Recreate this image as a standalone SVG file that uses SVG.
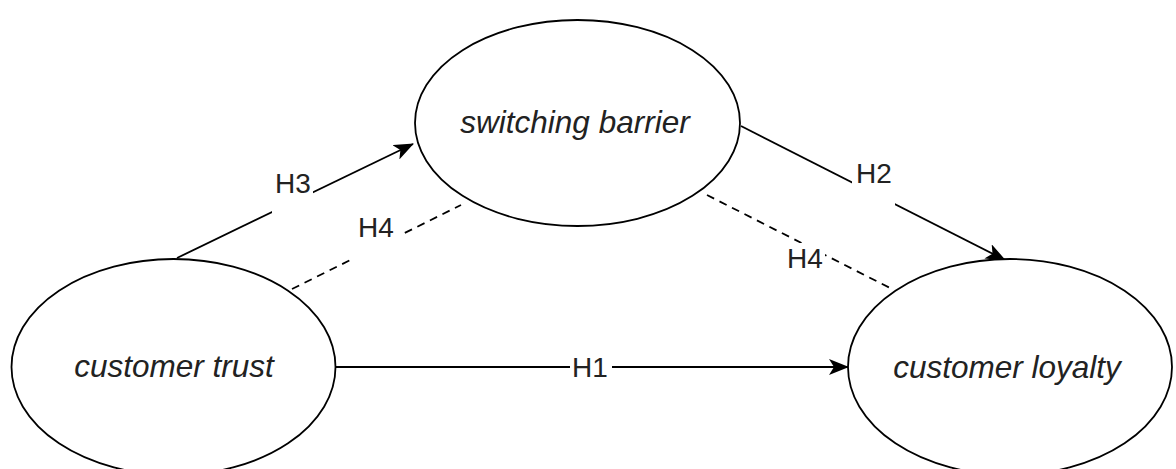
<svg xmlns="http://www.w3.org/2000/svg" width="1176" height="469" viewBox="0 0 1176 469">
<style>
.node ellipse{fill:#ffffff;stroke:#000000;stroke-width:1.8}
.node text{font-family:"Liberation Sans",Arial,sans-serif;font-style:italic;font-size:31.5px;fill:#222222;text-anchor:middle}
.edge{fill:none;stroke:#000000;stroke-width:1.8}
.dash{stroke-dasharray:8 6}
.lblbg{fill:#ffffff;stroke:none}
.lbl{font-family:"Liberation Sans",Arial,sans-serif;font-size:28px;fill:#222222;text-anchor:middle}
</style>
<defs>
<marker id="arrow" markerUnits="userSpaceOnUse" markerWidth="20" markerHeight="16" viewBox="0 0 20 16" refX="19" refY="8" orient="auto">
<path d="M0,0 L20,8 L0,16 L5,8 Z" fill="#000000"/>
</marker>
</defs>
<rect width="1176" height="469" fill="#ffffff"/>
<g id="connectors">
<line class="edge" x1="177" y1="258" x2="413" y2="144" marker-end="url(#arrow)"/>
<line class="edge dash" x1="292" y1="289" x2="461" y2="205"/>
<line class="edge" x1="741" y1="126" x2="1005" y2="260" marker-end="url(#arrow)"/>
<line class="edge dash" x1="707" y1="195" x2="892" y2="289"/>
<line class="edge" x1="336" y1="367" x2="848" y2="367" marker-end="url(#arrow)"/>
<rect class="lblbg" x="272" y="168" width="41" height="45"/>
<text class="lbl" x="293" y="193">H3</text>
<rect class="lblbg" x="353" y="212" width="50" height="48"/>
<text class="lbl" x="376" y="237">H4</text>
<rect class="lblbg" x="852" y="158" width="43" height="48"/>
<text class="lbl" x="874" y="183">H2</text>
<rect class="lblbg" x="786" y="243" width="39" height="29"/>
<text class="lbl" x="805" y="268">H4</text>
<rect class="lblbg" x="570" y="352" width="42" height="32"/>
<text class="lbl" x="590" y="377">H1</text>
</g>
<g id="customer-trust" class="node">
<ellipse cx="173.5" cy="367" rx="162" ry="108"/>
<text x="174" y="377">customer trust</text>
</g>
<g id="switching-barrier" class="node">
<ellipse cx="577.5" cy="123" rx="162.5" ry="103"/>
<text x="575" y="133">switching barrier</text>
</g>
<g id="customer-loyalty" class="node">
<ellipse cx="1010" cy="367" rx="162" ry="108"/>
<text x="1007" y="378">customer loyalty</text>
</g>
</svg>
